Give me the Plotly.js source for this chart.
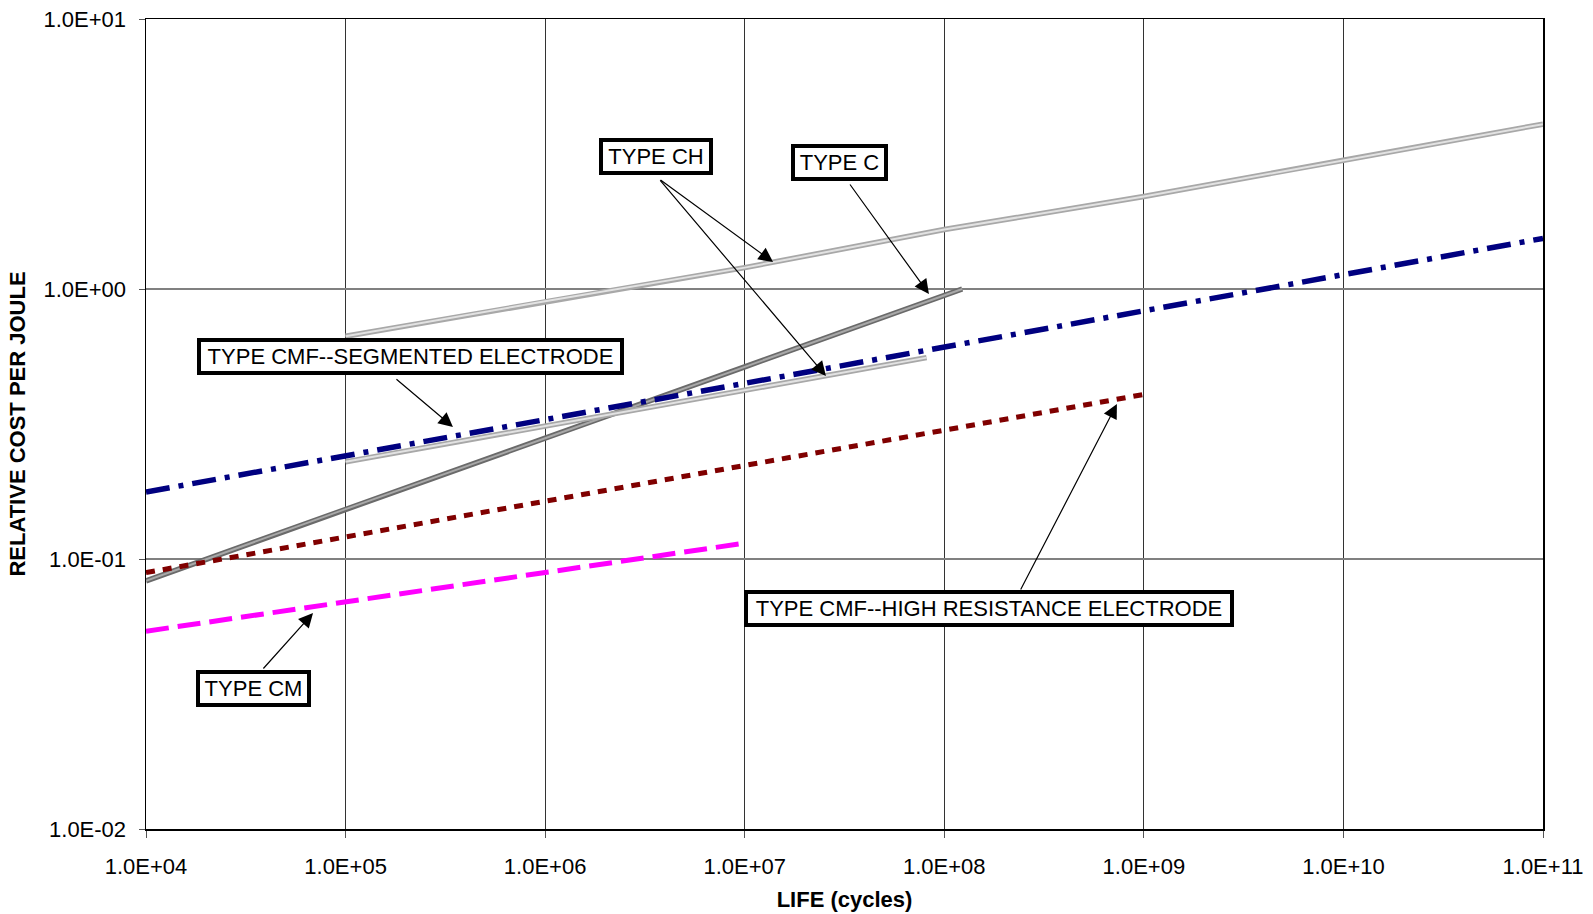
<!DOCTYPE html>
<html>
<head>
<meta charset="utf-8">
<script src="https://cdn.plot.ly/plotly-3.0.1.min.js"></script>
<style>
html,body{margin:0;padding:0;background:#fff;}
#chart{width:1593px;height:914px;}
</style>
</head>
<body>
<div id="chart"></div>
<script>
// ---- Data ----
const xTickVals = [1e4, 1e5, 1e6, 1e7, 1e8, 1e9, 1e10, 1e11];
const xTickLabels = ['1.0E+04','1.0E+05','1.0E+06','1.0E+07','1.0E+08','1.0E+09','1.0E+10','1.0E+11'];
const yTickVals = [0.01, 0.1, 1, 10];
const yTickLabels = ['1.0E-02','1.0E-01','1.0E+00','1.0E+01'];

const typeC_x = [1e4, 1e5, 1e6, 1e7, 1.23e8];
const typeC_y = [0.083, 0.153, 0.28, 0.515, 1.0];

const typeCHupper_x = [1e5, 1e6, 1e7, 1e8, 1e9, 1e10, 1e11];
const typeCHupper_y = [0.668, 0.90, 1.2, 1.66, 2.2, 3.0, 4.08];

const typeCHlower_x = [1e5, 1e6, 1e7, 8.15e7];
const typeCHlower_y = [0.229, 0.311, 0.423, 0.557];

const typeCMFseg_x = [1e4, 1e5, 1e6, 1e7, 1e8, 1e9, 1e10, 1e11];
const typeCMFseg_y = [0.177, 0.241, 0.329, 0.448, 0.61, 0.83, 1.13, 1.54];

const typeCMFhr_x = [1e4, 1e5, 1e6, 1e7, 1e8, 1e9];
const typeCMFhr_y = [0.089, 0.121, 0.164, 0.222, 0.30, 0.407];

const typeCM_x = [1e4, 1e5, 1e6, 1e7];
const typeCM_y = [0.054, 0.0695, 0.0895, 0.1145];

const labelTexts = ['TYPE CH', 'TYPE C', 'TYPE CMF--SEGMENTED ELECTRODE', 'TYPE CM', 'TYPE CMF--HIGH RESISTANCE ELECTRODE'];

// ---- Traces ----
function line(x, y, color, width, dash) {
  return {x: x, y: y, type: 'scatter', mode: 'lines', hoverinfo: 'skip', showlegend: false,
          line: {color: color, width: width, dash: dash || 'solid'}};
}
const traces = [
  line(typeCM_x, typeCM_y, '#FF00FF', 5, '23px,9px'),
  line(typeC_x, typeC_y, '#6a6a6a', 5.5),
  line(typeC_x, typeC_y, '#a8a8a8', 2),
  line(typeCMFhr_x, typeCMFhr_y, '#800000', 5, '9px,8px'),
  line(typeCHlower_x, typeCHlower_y, '#a8a8a8', 5.5),
  line(typeCHlower_x, typeCHlower_y, '#e2e2e2', 2),
  line(typeCHupper_x, typeCHupper_y, '#a8a8a8', 5.5),
  line(typeCHupper_x, typeCHupper_y, '#e2e2e2', 2),
  line(typeCMFseg_x, typeCMFseg_y, '#000080', 5.5, '24px,9px,5px,9px')
];

// ---- Annotations ----
const font = {family: 'Liberation Sans, Arial, sans-serif', size: 22, color: '#000'};
function box(text, xl, yl, w) {
  return {x: xl, y: yl, xref: 'x', yref: 'y', text: text, showarrow: false,
          font: font, bgcolor: '#fff', bordercolor: '#000', borderwidth: 4, borderpad: 1,
          width: w, height: 27, align: 'center', valign: 'middle'};
}
function arrow(xl, yl, ax, ay) {
  return {x: xl, y: yl, xref: 'x', yref: 'y', text: '', showarrow: true,
          ax: ax, ay: ay, axref: 'pixel', ayref: 'pixel',
          arrowhead: 2, arrowsize: 2.4, arrowwidth: 1.2, arrowcolor: '#000', standoff: 0};
}
const annotations = [
  box(labelTexts[0], 6.556, 0.489, 104),
  box(labelTexts[1], 7.475, 0.467, 87),
  box(labelTexts[2], 5.325, -0.25, 417),
  box(labelTexts[3], 4.539, -1.48, 105),
  box(labelTexts[4], 8.224, -1.185, 480),
  arrow(7.142, 0.100, -114, -83),
  arrow(7.407, -0.322, -167, -197),
  arrow(7.923, -0.0185, -80, -111),
  arrow(5.538, -0.511, -58, -49),
  arrow(4.837, -1.200, -51, 57),
  arrow(8.865, -0.426, -97, 187)
];

const layout = {
  width: 1593, height: 914,
  margin: {l: 146, r: 50, t: 19, b: 85},
  paper_bgcolor: '#fff', plot_bgcolor: '#fff',
  showlegend: false,
  font: font,
  xaxis: {
    type: 'log', range: [4, 11], tickvals: xTickVals, ticktext: xTickLabels,
    showgrid: true, gridcolor: '#333', gridwidth: 1,
    showline: true, linecolor: '#000', linewidth: 1.5, mirror: true,
    ticks: 'outside', ticklen: 7, tickcolor: '#555', tickwidth: 1,
    tickfont: font, zeroline: false, ticklabelstandoff: 10,
    title: {text: 'LIFE (cycles)', font: {family: 'Liberation Sans, Arial, sans-serif', size: 22, color: '#000', weight: 'bold'}, standoff: 13}
  },
  yaxis: {
    type: 'log', range: [-2, 1], tickvals: yTickVals, ticktext: yTickLabels,
    showgrid: true, gridcolor: '#808080', gridwidth: 1.5,
    showline: true, linecolor: '#000', linewidth: 1.5, mirror: true,
    ticks: 'outside', ticklen: 6, tickcolor: '#555', tickwidth: 1,
    tickfont: font, zeroline: false, ticklabelstandoff: 8,
    title: {text: 'RELATIVE COST PER JOULE', font: {family: 'Liberation Sans, Arial, sans-serif', size: 22, color: '#000', weight: 'bold'}, standoff: 12}
  },
  annotations: annotations
};

Plotly.newPlot('chart', traces, layout, {displayModeBar: false, staticPlot: true});
</script>
</body>
</html>
